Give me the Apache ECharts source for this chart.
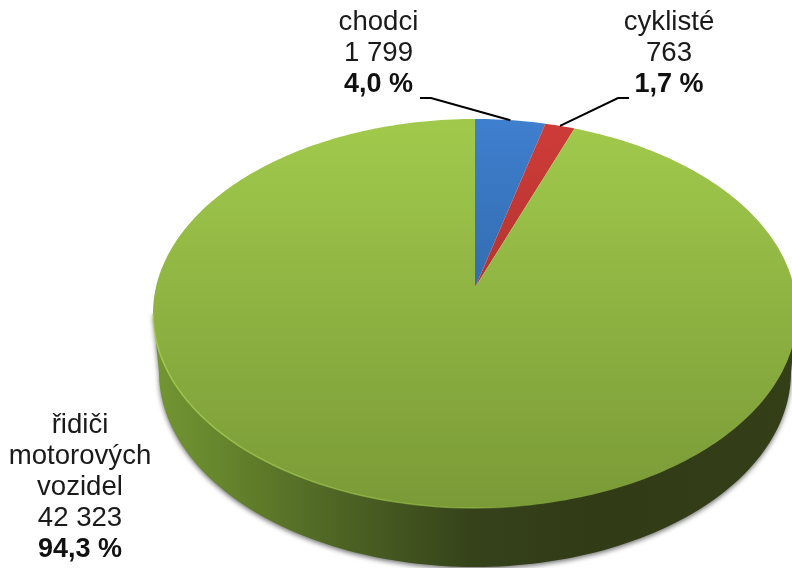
<!DOCTYPE html>
<html>
<head>
<meta charset="utf-8">
<title>Pie</title>
<style>
html,body{margin:0;padding:0;background:#fff;}
#chart{width:792px;height:568px;}
</style>
<script src="https://cdn.jsdelivr.net/npm/echarts@6/dist/echarts.min.js"></script>
</head>
<body>
<div id="chart"></div>
<script>
var categories = ['chodci', 'cyklisté', 'řidiči\nmotorových\nvozidel'];
var seriesValues = [1799, 763, 42323];
var valueLabels = ['1 799', '763', '42 323'];
var percentLabels = ['4,0 %', '1,7 %', '94,3 %'];

// geometry of the tilted disc
var cx = 475, cy = 313.5, rx = 322, ry = 194.5;
var lowCy = 372, lowRx = 316, lowRy = 195;
var tilt = 0.134; // shift of the apex towards the back edge

var total = 0;
for (var i = 0; i < seriesValues.length; i++) { total += seriesValues[i]; }

// disc point (r 0..1, angle clockwise from top) to the screen, straight lines stay straight
function project(r, a) {
	var u = r * Math.sin(a), v = r * Math.cos(a);
	var d = 1 + tilt * v;
	var pu = u * Math.sqrt(1 - tilt * tilt) / d;
	var pv = (v + tilt) / d;
	return [cx + rx * pu, cy - ry * pv];
}
function angleOf(sum) { return sum / total * Math.PI * 2; }
function sumBefore(idx) {
	var s = 0;
	for (var j = 0; j < idx; j++) { s += seriesValues[j]; }
	return s;
}
function vGradient(top, bottom) {
	return {type: 'linear', x: 0, y: cy - ry, x2: 0, y2: cy + ry, global: true,
		colorStops: [{offset: 0, color: top}, {offset: 1, color: bottom}]};
}
var faceColors = [['#3F7FCF', '#24558A'], ['#CF3C38', '#8F2A27'], ['#A1CA4C', '#7A9A37']];

// side wall of the disc
function renderSide() {
	var pts = [[cx - rx, cy]];
	for (var k = 0; k <= 120; k++) {
		var t = Math.PI * k / 120;
		pts.push([cx - lowRx * Math.cos(t), lowCy + lowRy * Math.sin(t)]);
	}
	pts.push([cx + rx, cy]);
	return {
		type: 'polygon',
		shape: {points: pts},
		style: {
			fill: {type: 'linear', x: cx - rx, y: 0, x2: cx + rx, y2: 0, global: true, colorStops: [
				{offset: 0, color: '#749633'},
				{offset: 0.12, color: '#64832C'},
				{offset: 0.3, color: '#4C6223'},
				{offset: 0.5, color: '#35421A'},
				{offset: 0.7, color: '#313B16'},
				{offset: 1, color: '#343F18'}
			]},
			shadowBlur: 5,
			shadowColor: 'rgba(0,0,0,0.55)',
			shadowOffsetY: 2
		}
	};
}

// one slice of the top face
function renderSlice(params, api) {
	var idx = params.dataIndex;
	var a0 = angleOf(sumBefore(idx));
	var a1 = a0 + angleOf(api.value(0));
	var steps = Math.max(4, Math.ceil((a1 - a0) / 0.02));
	var pts = [project(0, 0)];
	for (var k = 0; k <= steps; k++) {
		pts.push(project(1, a0 + (a1 - a0) * k / steps));
	}
	return {
		type: 'polygon',
		shape: {points: pts},
		style: {fill: vGradient(faceColors[idx][0], faceColors[idx][1])}
	};
}

// light rim on the front left
function renderRim() {
	var pts = [];
	for (var k = 0; k <= 80; k++) {
		var t = Math.PI * k / 80;
		pts.push([cx - rx * Math.cos(t), cy + ry * Math.sin(t)]);
	}
	return {
		type: 'polyline',
		shape: {points: pts},
		style: {
			fill: 'none',
			lineWidth: 1.5,
			stroke: {type: 'linear', x: cx - rx, y: 0, x2: cx + rx, y2: 0, global: true, colorStops: [
				{offset: 0, color: 'rgba(176,216,90,0.7)'},
				{offset: 0.5, color: 'rgba(160,200,80,0.5)'},
				{offset: 0.62, color: 'rgba(160,200,80,0)'},
				{offset: 1, color: 'rgba(160,200,80,0)'}
			]}
		}
	};
}

var leaderElbows = [[[420, 98], [431, 98]], [[629, 98], [618, 98]]];
function renderLeader(params, api) {
	var idx = params.dataIndex;
	var mid = angleOf(sumBefore(idx) + api.value(0) / 2);
	return {
		type: 'polyline',
		shape: {points: [leaderElbows[idx][0], leaderElbows[idx][1], project(1, mid)]},
		style: {fill: 'none', stroke: '#000', lineWidth: 2}
	};
}

function labelText(idx) {
	var lines = categories[idx].split('\n');
	lines.push(valueLabels[idx]);
	var out = [];
	for (var j = 0; j < lines.length; j++) { out.push('{n|' + lines[j] + '}'); }
	out.push('{b|' + percentLabels[idx] + '}');
	return out.join('\n');
}
var labelPos = [[378.5, 7], [669, 7], [80, 410]];
var fontStack = '"Liberation Sans", Arial, sans-serif';
var labelGraphics = [];
for (var n = 0; n < categories.length; n++) {
	labelGraphics.push({
		type: 'text',
		x: labelPos[n][0],
		y: labelPos[n][1],
		z: 10,
		style: {
			text: labelText(n),
			align: 'center',
			verticalAlign: 'top',
			fill: '#1a1a1a',
			rich: {
				n: {fontFamily: fontStack, fontSize: 27.6, lineHeight: 31, fill: '#1a1a1a'},
				b: {fontFamily: fontStack, fontSize: 27, lineHeight: 31, fontWeight: 'bold', fill: '#111'}
			}
		}
	});
}

var myChart = echarts.init(document.getElementById('chart'), null, {renderer: 'canvas'});
myChart.setOption({
	animation: false,
	backgroundColor: '#fff',
	graphic: labelGraphics,
	series: [
		{type: 'custom', coordinateSystem: 'none', silent: true, z: 1, data: [total], renderItem: renderSide},
		{type: 'custom', coordinateSystem: 'none', silent: true, z: 2, data: seriesValues, renderItem: renderSlice},
		{type: 'custom', coordinateSystem: 'none', silent: true, z: 3, data: [total], renderItem: renderRim},
		{type: 'custom', coordinateSystem: 'none', silent: true, z: 4, data: seriesValues.slice(0, 2), renderItem: renderLeader}
	]
});
</script>
</body>
</html>
